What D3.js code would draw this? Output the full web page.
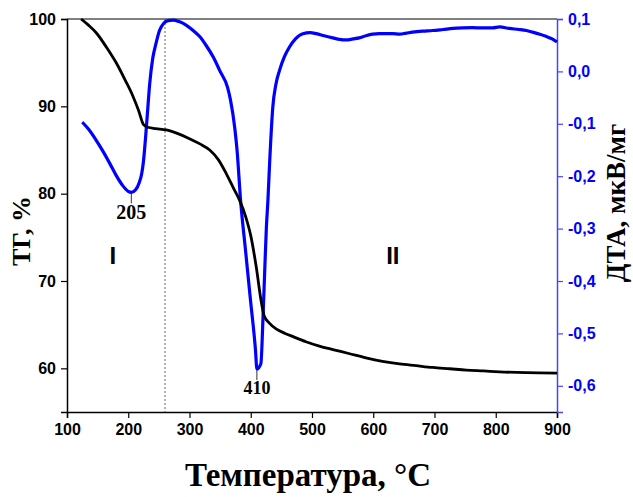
<!DOCTYPE html>
<html>
<head>
<meta charset="utf-8">
<script src="https://cdn.jsdelivr.net/npm/d3@7"></script>
<style>
  html, body { margin: 0; padding: 0; background: #fff; }
  svg { display: block; }
</style>
</head>
<body>
<svg id="chart" width="633" height="497"></svg>
<script>
// Thermogravimetric (TG) curve: temperature, °C → mass, %
const tgTemp = [123, 135, 148, 165, 181, 195, 208, 217, 225, 232, 245, 262, 280, 300, 317, 333, 347, 360, 372, 382, 392, 400, 409, 417, 422, 430, 442, 456, 470, 490, 512, 534, 560, 588, 615, 643, 670, 697, 725, 752, 780, 806, 850, 900];
const tgMass = [100, 99.3, 98.4, 96.7, 94.9, 93.0, 91.1, 89.5, 87.9, 87.6, 87.45, 87.3, 86.9, 86.3, 85.7, 85.0, 83.9, 82.3, 80.6, 79.2, 77.3, 75.2, 71.6, 67.7, 66.0, 65.2, 64.5, 64.0, 63.6, 63.05, 62.55, 62.15, 61.7, 61.2, 60.8, 60.5, 60.3, 60.1, 59.95, 59.8, 59.7, 59.6, 59.5, 59.45];

// Differential thermal analysis (DTA) curve: temperature, °C → signal, мкВ/мг
const dtaTemp = [125, 135, 148, 160, 170, 180, 191, 200, 205, 212, 218, 222, 225, 228, 231, 235, 240, 245, 251, 258, 265, 273, 283, 295, 306, 317, 328, 339, 350, 362, 367, 373.7, 377.7, 383.4, 391.5, 399.7, 407.8, 410, 416.5, 420, 423, 425.5, 428, 431, 436, 441, 447, 455, 463, 473, 485, 497, 507, 520, 534, 545, 556, 567, 577, 588, 599, 610, 621, 632, 643, 654, 664, 680, 697, 714, 730, 746, 762, 779, 795, 806, 822, 838, 850, 860, 872, 882, 892, 900];
const dtaSignal = [-0.097, -0.110, -0.132, -0.155, -0.176, -0.198, -0.218, -0.229, -0.231, -0.226, -0.212, -0.195, -0.170, -0.130, -0.085, -0.024, 0.025, 0.052, 0.078, 0.092, 0.097, 0.098, 0.095, 0.088, 0.078, 0.066, 0.048, 0.027, 0.000, -0.030, -0.055, -0.106, -0.151, -0.246, -0.342, -0.438, -0.533, -0.568, -0.558, -0.470, -0.374, -0.298, -0.247, -0.170, -0.068, -0.025, 0.002, 0.028, 0.046, 0.062, 0.072, 0.074, 0.072, 0.068, 0.064, 0.061, 0.060, 0.062, 0.064, 0.068, 0.071, 0.072, 0.072, 0.072, 0.071, 0.073, 0.075, 0.077, 0.078, 0.080, 0.082, 0.083, 0.0835, 0.083, 0.083, 0.085, 0.082, 0.080, 0.078, 0.075, 0.071, 0.067, 0.062, 0.056];

// Axis ticks
const xTicks = [100, 200, 300, 400, 500, 600, 700, 800, 900];
const xMinor = [150, 250, 350, 450, 550, 650, 750, 850];
const tgTicks = [60, 70, 80, 90, 100];
const tgMinor = [65, 75, 85, 95];
const dtaTicks = [-0.6, -0.5, -0.4, -0.3, -0.2, -0.1, 0.0, 0.1];
const dtaMinor = [-0.55, -0.45, -0.35, -0.25, -0.15, -0.05, 0.05];

// Peak markers and stage labels
const peaks = [{ t: 205, v: -0.231, label: "205", size: 20 }, { t: 410, v: -0.568, label: "410", size: 18 }];
const stageBoundary = 260;
const stages = [{ t: 175, label: "I" }, { t: 632, label: "II" }];

const svg = d3.select("#chart");
const plotLeft = 67, plotRight = 557, plotTop = 19, plotBottom = 412;

const x = d3.scaleLinear().domain([100, 900]).range([plotLeft, plotRight]);
const yTg = d3.scaleLinear().domain([55, 100]).range([plotBottom, plotTop]);
const yDta = d3.scaleLinear().domain([-0.65, 0.1]).range([plotBottom, plotTop]);

const sansFont = "'Liberation Sans', Arial, sans-serif";
const serifFont = "'Liberation Serif', 'Times New Roman', serif";
const blue = "#0000ff";
const axisBlue = "#4545ff";
const commaFmt = v => d3.format(".1f")(v).replace(".", ",").replace("−", "-");

// Top frame line
svg.append("line").attr("x1", plotLeft).attr("x2", plotRight).attr("y1", plotTop).attr("y2", plotTop)
  .attr("stroke", "#000").attr("stroke-width", 1);

// Bottom axis
const gx = svg.append("g").attr("transform", `translate(0,${plotBottom})`);
gx.call(d3.axisBottom(x).tickValues(xMinor).tickSize(3).tickFormat(""));
gx.call(d3.axisBottom(x).tickValues(xTicks).tickSize(6).tickPadding(6).tickFormat(d3.format("d")));
gx.selectAll(".domain").attr("stroke", "#000").attr("stroke-width", 1.5);
gx.selectAll(".tick line").attr("stroke", "#000").attr("stroke-width", 1.2);
gx.selectAll("text").attr("font-family", sansFont).attr("font-weight", "bold").attr("font-size", 16).attr("fill", "#000");

// Left (TG) axis
const gl = svg.append("g").attr("transform", `translate(${plotLeft},0)`);
gl.call(d3.axisLeft(yTg).tickValues(tgMinor).tickSize(3).tickFormat(""));
gl.call(d3.axisLeft(yTg).tickValues(tgTicks).tickSize(6).tickPadding(5).tickFormat(d3.format("d")));
gl.selectAll(".domain").attr("stroke", "#000").attr("stroke-width", 1.5);
gl.selectAll(".tick line").attr("stroke", "#000").attr("stroke-width", 1.2);
gl.selectAll("text").attr("font-family", sansFont).attr("font-weight", "bold").attr("font-size", 16).attr("fill", "#000");

// Right (DTA) axis
const gr = svg.append("g").attr("transform", `translate(${plotRight},0)`);
gr.call(d3.axisRight(yDta).tickValues(dtaMinor).tickSize(3).tickFormat(""));
gr.call(d3.axisRight(yDta).tickValues(dtaTicks).tickSize(6).tickPadding(5).tickFormat(commaFmt));
gr.selectAll(".domain").attr("stroke", axisBlue).attr("stroke-width", 1.5);
gr.selectAll(".tick line").attr("stroke", axisBlue).attr("stroke-width", 1.2);
gr.selectAll("text").attr("font-family", sansFont).attr("font-weight", "bold").attr("font-size", 16).attr("fill", blue);

// Stage boundary
svg.append("line")
  .attr("x1", x(stageBoundary)).attr("x2", x(stageBoundary))
  .attr("y1", plotTop).attr("y2", plotBottom)
  .attr("stroke", "#666").attr("stroke-width", 1).attr("stroke-dasharray", "2,2");

// DTA curve
const dtaData = dtaTemp.map((t, i) => [t, dtaSignal[i]]);
svg.append("path").datum(dtaData)
  .attr("fill", "none").attr("stroke", blue).attr("stroke-width", 3.2)
  .attr("stroke-linejoin", "round")
  .attr("d", d3.line().x(d => x(d[0])).y(d => yDta(d[1])).curve(d3.curveMonotoneX));

// TG curve
const tgData = tgTemp.map((t, i) => [t, tgMass[i]]);
svg.append("path").datum(tgData)
  .attr("fill", "none").attr("stroke", "#000").attr("stroke-width", 2.8)
  .attr("stroke-linejoin", "round")
  .attr("d", d3.line().x(d => x(d[0])).y(d => yTg(d[1])).curve(d3.curveMonotoneX));

// Peak markers
peaks.forEach(p => {
  const px = x(p.t), py = yDta(p.v);
  svg.append("line").attr("x1", px).attr("x2", px).attr("y1", py + 1).attr("y2", py + 11)
    .attr("stroke", "#333").attr("stroke-width", 1);
  svg.append("text").attr("x", px).attr("y", py + 11 + p.size * 0.8)
    .attr("text-anchor", "middle")
    .attr("font-family", serifFont).attr("font-weight", "bold").attr("font-size", p.size)
    .text(p.label);
});

// Stage labels
stages.forEach(s => {
  svg.append("text").attr("x", x(s.t)).attr("y", 264)
    .attr("text-anchor", "middle")
    .attr("font-family", sansFont).attr("font-weight", "bold").attr("font-size", 24)
    .text(s.label);
});

// Axis titles
svg.append("text")
  .attr("transform", "translate(30,231) rotate(-90)")
  .attr("text-anchor", "middle")
  .attr("font-family", serifFont).attr("font-weight", "bold").attr("font-size", 26)
  .text("ТГ, %");

svg.append("text")
  .attr("transform", "translate(625,203) rotate(-90)")
  .attr("text-anchor", "middle")
  .attr("font-family", serifFont).attr("font-weight", "bold").attr("font-size", 27)
  .text("ДТА, мкВ/мг");

svg.append("text")
  .attr("x", 308).attr("y", 486)
  .attr("text-anchor", "middle")
  .attr("font-family", serifFont).attr("font-weight", "bold").attr("font-size", 33)
  .text("Температура, °C");
</script>
</body>
</html>
